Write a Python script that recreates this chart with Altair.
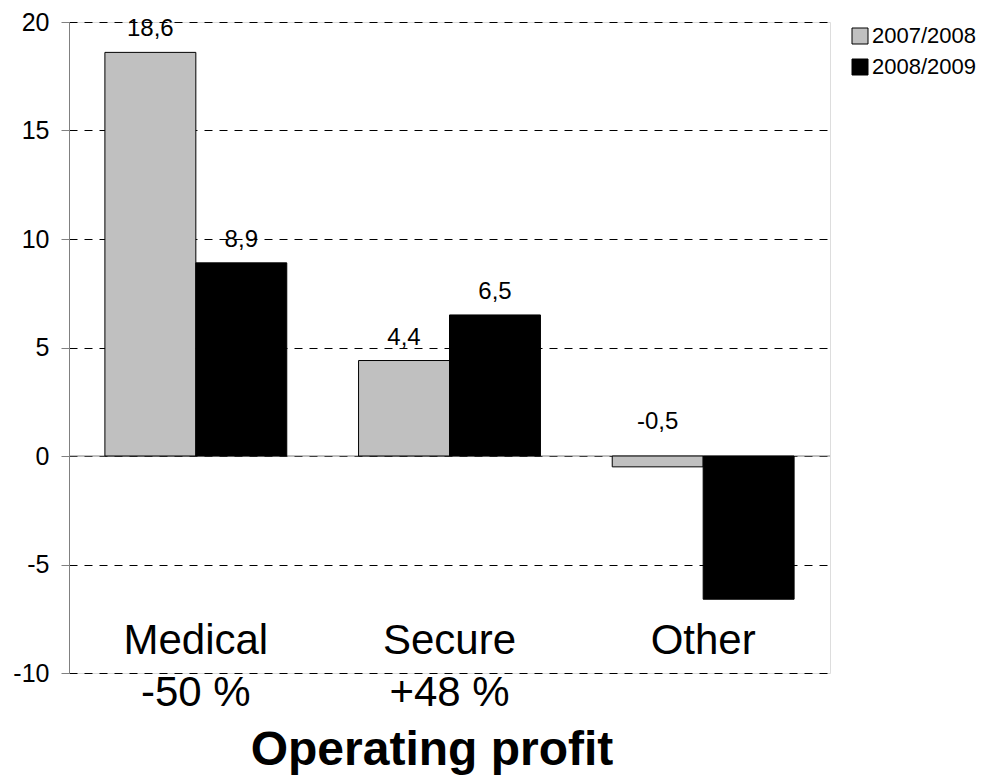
import altair as alt
import pandas as pd

categories = ["Medical", "Secure", "Other"]
series = ["2007/2008", "2008/2009"]
values_2007 = [18.6, 4.4, -0.5]
values_2008 = [8.9, 6.5, -6.6]
labels_2007 = ["18,6", "4,4", "-0,5"]
labels_2008 = ["8,9", "6,5", ""]
category_labels = ["Medical\n-50 %", "Secure\n+48 %", "Other"]
y_ticks = [-10, -5, 0, 5, 10, 15, 20]
chart_title = "Operating profit"

rows = []
for i, c in enumerate(categories):
    rows.append({"cat": c, "series": series[0], "value": values_2007[i], "label": labels_2007[i]})
    rows.append({"cat": c, "series": series[1], "value": values_2008[i], "label": labels_2008[i]})
df = pd.DataFrame(rows)
cat_df = pd.DataFrame({"cat": categories, "text": category_labels})
title_df = pd.DataFrame({"text": [chart_title]})

FONT = "Liberation Sans"
W, H = 761, 651

x_enc = alt.X("cat:N", sort=categories, axis=None,
              scale=alt.Scale(domain=categories, paddingInner=0.283, paddingOuter=0.1415))
y_scale = alt.Scale(domain=[-10, 20], nice=False, zero=False)
xoff_enc = alt.XOffset("series:N", sort=series,
                       scale=alt.Scale(domain=series, paddingInner=0, paddingOuter=0))

bars = alt.Chart(df).mark_bar(stroke="black", strokeWidth=1).encode(
    x=x_enc,
    xOffset=xoff_enc,
    y=alt.Y("value:Q", scale=y_scale, title=None,
            axis=alt.Axis(values=y_ticks, grid=True, gridDash=[8, 7], gridColor="#000000", gridWidth=1,
                          gridOpacity=1, domainColor="#808080", domainWidth=1, tickColor="#808080",
                          tickSize=8, tickWidth=1, labelFontSize=25, labelFont=FONT, labelColor="#000000",
                          labelPadding=12, labelFlush=False, labelOverlap=False,
                          labelExpr="datum.value + ''")),
    color=alt.Color("series:N", sort=series,
                    scale=alt.Scale(domain=series, range=["#c0c0c0", "#000000"]),
                    legend=alt.Legend(title=None, orient="none", legendX=780, legendY=3,
                                      symbolType="square", symbolSize=256, symbolStrokeColor="#000000",
                                      symbolStrokeWidth=1, symbolOpacity=1, labelFontSize=22,
                                      labelFont=FONT, labelColor="#000000", labelOffset=1,
                                      rowPadding=9, padding=0)),
)

zero = alt.Chart(pd.DataFrame({"z": [0]})).mark_rule(color="#808080", strokeWidth=1).encode(
    y=alt.Y("z:Q", scale=y_scale)
)

bar_labels = alt.Chart(df).transform_calculate(
    pos="abs(datum.value)"
).mark_text(fontSize=24, font=FONT, color="#000000", baseline="alphabetic", dy=-16).encode(
    x=x_enc,
    xOffset=xoff_enc,
    y=alt.Y("pos:Q", scale=y_scale),
    text="label:N",
)

cat_text = alt.Chart(cat_df).mark_text(fontSize=42, font=FONT, color="#000000", baseline="alphabetic",
                                       lineBreak="\n", lineHeight=52).encode(
    x=x_enc,
    y=alt.value(632),
    text="text:N",
)

title_text = alt.Chart(title_df).mark_text(fontSize=48, font=FONT, fontWeight="bold", color="#000000",
                                           baseline="alphabetic").encode(
    x=alt.value(363),
    y=alt.value(743),
    text="text:N",
)

chart = alt.layer(zero, bars, bar_labels, cat_text, title_text).properties(
    width=W, height=H,
    autosize=alt.AutoSizeParams(type="none"),
    padding={"left": 61, "top": 14, "right": 150, "bottom": 104},
).configure_view(stroke=None).configure(background="white")

chart.save("out.html", embed_options={"renderer": "svg", "actions": False})
